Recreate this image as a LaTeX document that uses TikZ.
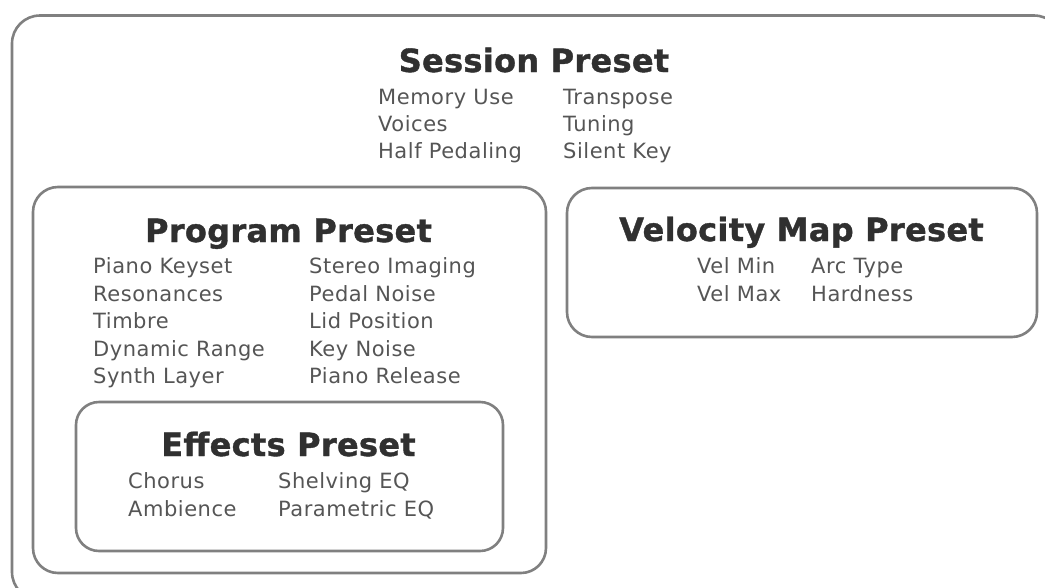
\documentclass[tikz,border=0pt]{standalone}
\usepackage{fontspec}
\setmainfont{DejaVu Sans}
\newfontfamily\itemfont[LetterSpace=2.5]{DejaVu Sans}
\newfontfamily\titlefont[LetterSpace=1,FakeBold=1.2]{DejaVu Sans}
\definecolor{boxline}{HTML}{808080}
\definecolor{titlecol}{HTML}{303030}
\definecolor{itemcol}{HTML}{555555}
\tikzset{
  presetbox/.style={draw=boxline, line width=2.6pt, rounded corners=#1, inner sep=0pt},
  presetbox/.default=25pt,
  titletext/.style={anchor=base, inner sep=0pt, text=titlecol, font=\titlefont\fontsize{32}{36}\selectfont\bfseries},
  itemtext/.style={anchor=base west, inner sep=0pt, text=itemcol, font=\itemfont\fontsize{21}{24}\selectfont},
}
\begin{document}
\begin{tikzpicture}[x=1pt,y=-1pt]
\useasboundingbox (0,0) rectangle (1045,587);
\begin{scope}
\clip (0,0) rectangle (1045,587);
% outer session box
\draw[presetbox=28pt] (12,15.5) rectangle (1062,600);
\end{scope}
% boxes
\draw[presetbox=25pt] (33,187) rectangle (546,573);
\draw[presetbox=23pt] (76,402) rectangle (503,551);
\draw[presetbox=25pt] (567,188) rectangle (1037,337);

% Session
\node[titletext] (stitle) at (534,72) {Session Preset};
\node[itemtext] (s1) at (378,104) {Memory Use};
\node[itemtext] (s2) at (378,131) {Voices};
\node[itemtext] (s3) at (378,158) {Half Pedaling};
\node[itemtext] (s4) at (563,104) {Transpose};
\node[itemtext] (s5) at (563,131) {Tuning};
\node[itemtext] (s6) at (563,158) {Silent Key};

% Program
\node[titletext] (ptitle) at (288.5,242) {Program Preset};
\node[itemtext] (p1) at (93,273) {Piano Keyset};
\node[itemtext] (p2) at (93,301) {Resonances};
\node[itemtext] (p3) at (93,328) {Timbre};
\node[itemtext] (p4) at (93,356) {Dynamic Range};
\node[itemtext] (p5) at (93,383) {Synth Layer};
\node[itemtext] (p6) at (309,273) {Stereo Imaging};
\node[itemtext] (p7) at (309,301) {Pedal Noise};
\node[itemtext] (p8) at (309,328) {Lid Position};
\node[itemtext] (p9) at (309,356) {Key Noise};
\node[itemtext] (p10) at (309,383) {Piano Release};

% Velocity
\node[titletext] (vtitle) at (801.5,241) {Velocity Map Preset};
\node[itemtext] (v1) at (697,273) {Vel Min};
\node[itemtext] (v2) at (697,301) {Vel Max};
\node[itemtext] (v3) at (811,273) {Arc Type};
\node[itemtext] (v4) at (811,301) {Hardness};

% Effects
\node[titletext] (etitle) at (288.5,456) {Effects Preset};
\node[itemtext] (e1) at (128,488) {Chorus};
\node[itemtext] (e2) at (128,516) {Ambience};
\node[itemtext] (e3) at (278,488) {Shelving EQ};
\node[itemtext] (e4) at (278,516) {Parametric EQ};
\end{tikzpicture}
\end{document}
